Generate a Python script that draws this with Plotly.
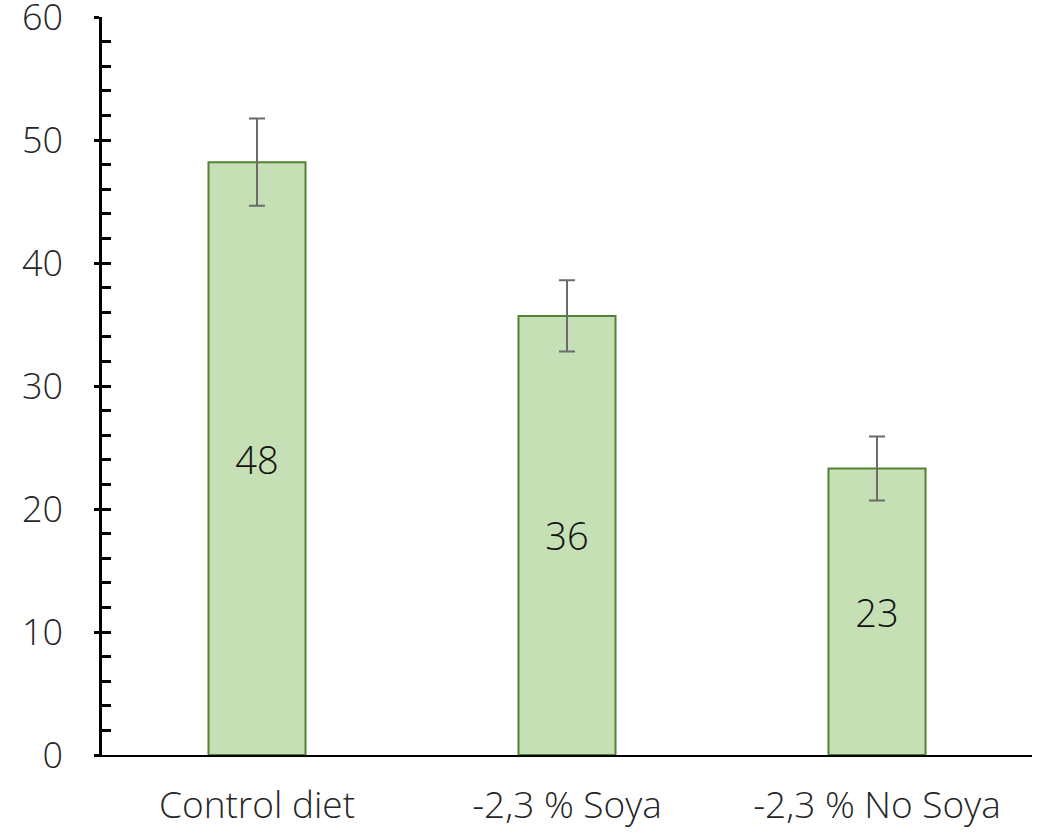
import plotly.graph_objects as go

# Data
categories = ['Control diet', '-2,3 % Soya', '-2,3 % No Soya']
values = [48.2, 35.7, 23.3]
errors = [3.55, 2.9, 2.6]
y_ticks = [0, 10, 20, 30, 40, 50, 60]

font_family = 'Open Sans'
text_color = '#262626'

fig = go.Figure()
fig.add_trace(go.Bar(
    x=categories,
    y=values,
    marker=dict(color='#C5E0B4', line=dict(color='#548235', width=2)),
    error_y=dict(type='data', array=errors, visible=True,
                 color='#6b6b6b', thickness=2, width=8),
    texttemplate='%{y:.0f}',
    textposition='inside',
    insidetextanchor='middle',
    textfont=dict(family=font_family, size=38, color='#111111', weight=300),
    showlegend=False,
))

# invisible helper trace for the inside minor tick axis
fig.add_trace(go.Scatter(x=categories, y=values, yaxis='y2',
                         mode='markers', marker=dict(opacity=0),
                         hoverinfo='skip', showlegend=False))

fig.update_layout(
    width=1048, height=832,
    margin=dict(l=102, r=16, t=17, b=77),
    plot_bgcolor='white', paper_bgcolor='white',
    bargap=0.687,
    font=dict(family=font_family, color=text_color, weight=300),
    xaxis=dict(
        showline=True, linecolor='#000000', linewidth=2,
        ticks='', showgrid=False, automargin=False,
        tickfont=dict(family=font_family, size=37, color=text_color, weight=300),
        ticklabelstandoff=17,
    ),
    yaxis=dict(
        range=[0, 60], tickvals=y_ticks, automargin=False,
        ticklabeloverflow='allow',
        showline=True, linecolor='#000000', linewidth=2.5,
        ticks='outside', ticklen=5, tickwidth=2.5, tickcolor='#000000',
        showgrid=False, zeroline=False,
        tickfont=dict(family=font_family, size=36, color=text_color, weight=300),
        ticklabelstandoff=24,
    ),
    yaxis2=dict(
        range=[0, 60], dtick=2, overlaying='y', side='left', automargin=False,
        ticks='inside', ticklen=9, tickwidth=2.5, tickcolor='#000000',
        showticklabels=False, showgrid=False, zeroline=False, showline=False,
    ),
)

# drop the default body margin so the figure fills the window exactly
fig.write_html('out.html', config={'displayModeBar': False},
               post_script="document.body.style.margin='0';")
